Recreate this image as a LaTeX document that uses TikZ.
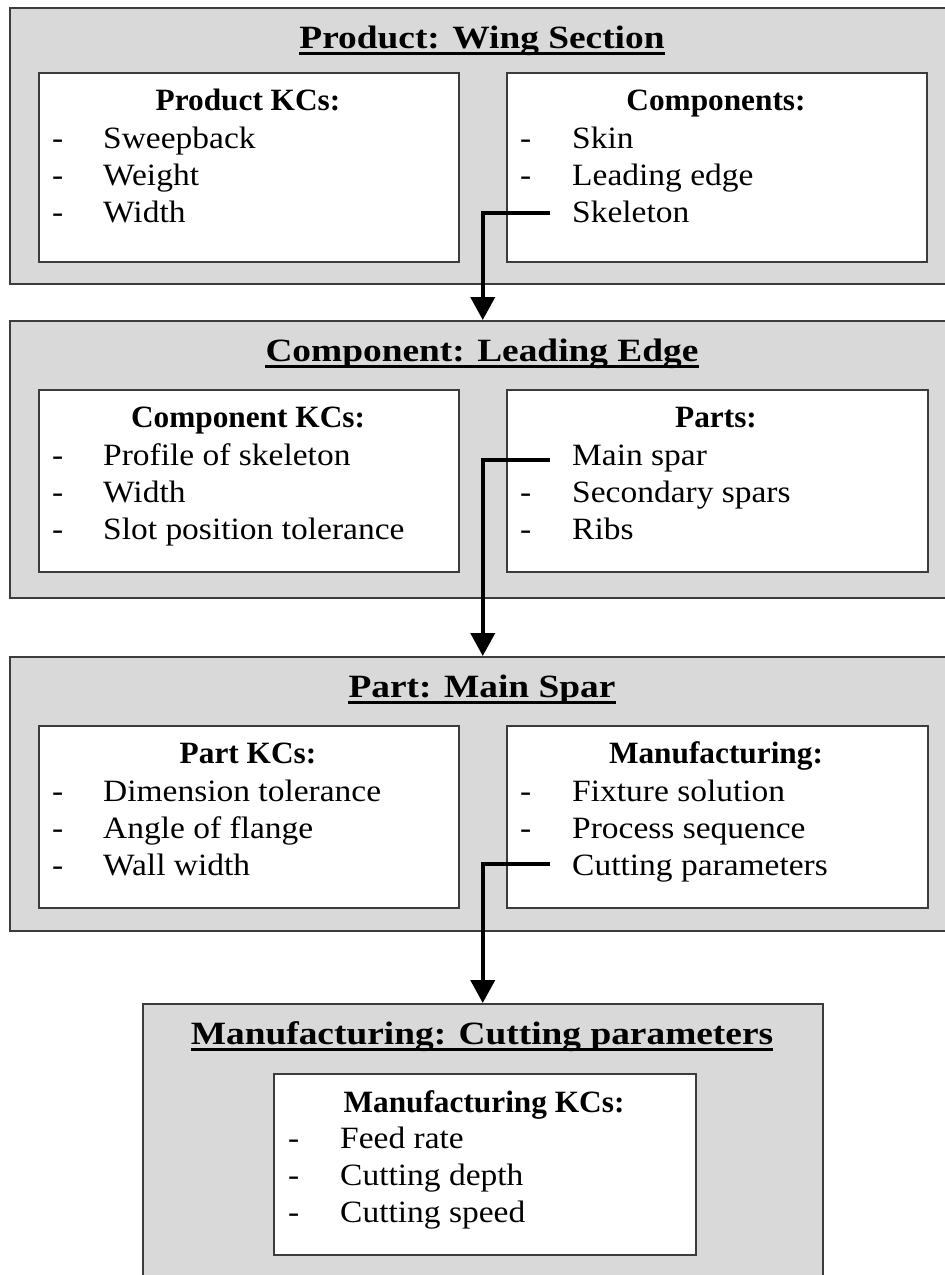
\documentclass[tikz,border=0pt]{standalone}
\usepackage{fontspec}
\setmainfont{Liberation Serif}[FakeStretch=1.08]
\newfontfamily\headfont{Liberation Serif}[FakeStretch=1.01]
\newfontfamily\titlefont{Liberation Serif}[FakeStretch=1.15]
\usepackage{xcolor}
\usepackage{tikz}
\usetikzlibrary{arrows.meta,calc}

\definecolor{panelgray}{RGB}{217,217,217}
\definecolor{edgegray}{RGB}{60,60,60}

\begin{document}
\begin{tikzpicture}[x=1pt,y=1pt,yscale=-1,xscale=1,
  panel/.style={draw=edgegray,line width=1.5pt,fill=panelgray,inner sep=0pt,anchor=north west},
  listbox/.style={draw=edgegray,line width=1.5pt,fill=white,inner sep=0pt,anchor=north west},
  titletext/.style={anchor=base,inner sep=0pt,font=\titlefont\bfseries\fontsize{32.5}{39}\selectfont},
  headtext/.style={anchor=base,inner sep=0pt,font=\headfont\bfseries\fontsize{31}{37}\selectfont},
  itemtext/.style={anchor=base west,inner sep=0pt,font=\fontsize{31}{37}\selectfont},
  uline/.style={line width=2.5pt},
  flow/.style={line width=4pt,-{Triangle[width=24pt,length=23pt]}}]
\useasboundingbox (0,0) rectangle (945,1275);

%Shape: Panel product
\node [panel,minimum width=946pt,minimum height=276pt] (wing) at (9,7) {};
% Text Node
\node [titletext] (wingttl) at (482,48) {Product: Wing Section};
\draw [uline] ($(wingttl.base west)+(0,5.5)$) -- ($(wingttl.base east)+(0,5.5)$);
%Shape: Box product KCs
\node [listbox,minimum width=420pt,minimum height=189pt] (wingkc) at (38,72) {};
\node [headtext] (wingkchd) at (248,110) {Product KCs:};
\node [itemtext] (wingkcd1) at (52,148) {-};
\node [itemtext] (wingkc1) at (103,148) {Sweepback};
\node [itemtext] (wingkcd2) at (52,185) {-};
\node [itemtext] (wingkc2) at (103,185) {Weight};
\node [itemtext] (wingkcd3) at (52,222) {-};
\node [itemtext] (wingkc3) at (103,222) {Width};
%Shape: Box components
\node [listbox,minimum width=420pt,minimum height=189pt] (wingcomp) at (506,72) {};
\node [headtext] (wingcomphd) at (716,110) {Components:};
\node [itemtext] (wingcompd1) at (520,148) {-};
\node [itemtext] (wingcomp1) at (572,148) {Skin};
\node [itemtext] (wingcompd2) at (520,185) {-};
\node [itemtext] (wingcomp2) at (572,185) {Leading edge};
\node [itemtext] (wingcomp3) at (572,222) {Skeleton};

%Shape: Panel component
\node [panel,minimum width=946pt,minimum height=277pt] (edge) at (9,320) {};
% Text Node
\node [titletext] (edgettl) at (482,361) {Component: Leading Edge};
\draw [uline] ($(edgettl.base west)+(0,5.5)$) -- ($(edgettl.base east)+(0,5.5)$);
%Shape: Box component KCs
\node [listbox,minimum width=420pt,minimum height=182pt] (edgekc) at (38,389) {};
\node [headtext] (edgekchd) at (248,427) {Component KCs:};
\node [itemtext] (edgekcd1) at (52,465) {-};
\node [itemtext] (edgekc1) at (103,465) {Profile of skeleton};
\node [itemtext] (edgekcd2) at (52,502) {-};
\node [itemtext] (edgekc2) at (103,502) {Width};
\node [itemtext] (edgekcd3) at (52,539) {-};
\node [itemtext] (edgekc3) at (103,539) {Slot position tolerance};
%Shape: Box parts
\node [listbox,minimum width=421pt,minimum height=182pt] (edgeparts) at (506,389) {};
\node [headtext] (edgepartshd) at (716,427) {Parts:};
\node [itemtext] (edgeparts1) at (572,465) {Main spar};
\node [itemtext] (edgepartsd2) at (520,502) {-};
\node [itemtext] (edgeparts2) at (572,502) {Secondary spars};
\node [itemtext] (edgepartsd3) at (520,539) {-};
\node [itemtext] (edgeparts3) at (572,539) {Ribs};

%Shape: Panel part
\node [panel,minimum width=946pt,minimum height=274pt] (spar) at (9,656) {};
% Text Node
\node [titletext] (sparttl) at (482,697) {Part: Main Spar};
\draw [uline] ($(sparttl.base west)+(0,5.5)$) -- ($(sparttl.base east)+(0,5.5)$);
%Shape: Box part KCs
\node [listbox,minimum width=420pt,minimum height=182pt] (sparkc) at (38,725) {};
\node [headtext] (sparkchd) at (248,763) {Part KCs:};
\node [itemtext] (sparkcd1) at (52,801) {-};
\node [itemtext] (sparkc1) at (103,801) {Dimension tolerance};
\node [itemtext] (sparkcd2) at (52,838) {-};
\node [itemtext] (sparkc2) at (103,838) {Angle of flange};
\node [itemtext] (sparkcd3) at (52,875) {-};
\node [itemtext] (sparkc3) at (103,875) {Wall width};
%Shape: Box manufacturing
\node [listbox,minimum width=421pt,minimum height=182pt] (sparmfg) at (506,725) {};
\node [headtext] (sparmfghd) at (716,763) {Manufacturing:};
\node [itemtext] (sparmfgd1) at (520,801) {-};
\node [itemtext] (sparmfg1) at (572,801) {Fixture solution};
\node [itemtext] (sparmfgd2) at (520,838) {-};
\node [itemtext] (sparmfg2) at (572,838) {Process sequence};
\node [itemtext] (sparmfg3) at (572,875) {Cutting parameters};

%Shape: Panel manufacturing
\node [panel,minimum width=680pt,minimum height=290pt] (cut) at (142,1003) {};
% Text Node
\node [titletext] (cutttl) at (482,1044) {Manufacturing: Cutting parameters};
\draw [uline] ($(cutttl.base west)+(0,5.5)$) -- ($(cutttl.base east)+(0,5.5)$);
%Shape: Box manufacturing KCs
\node [listbox,minimum width=422pt,minimum height=181pt] (cutkc) at (273,1073) {};
\node [headtext] (cutkchd) at (484,1112) {Manufacturing KCs:};
\node [itemtext] (cutkcd1) at (288,1148) {-};
\node [itemtext] (cutkc1) at (340,1148) {Feed rate};
\node [itemtext] (cutkcd2) at (288,1185) {-};
\node [itemtext] (cutkc2) at (340,1185) {Cutting depth};
\node [itemtext] (cutkcd3) at (288,1222) {-};
\node [itemtext] (cutkc3) at (340,1222) {Cutting speed};

%Straight Lines: links
\coordinate (skelend) at (550,213);
\coordinate (mainend) at (550,460);
\coordinate (paramend) at (550,864);
\draw [flow] (skelend) -| (edge.north);
\draw [flow] (mainend) -| (spar.north);
\draw [flow] (paramend) -| (cut.north);

\end{tikzpicture}
\end{document}
